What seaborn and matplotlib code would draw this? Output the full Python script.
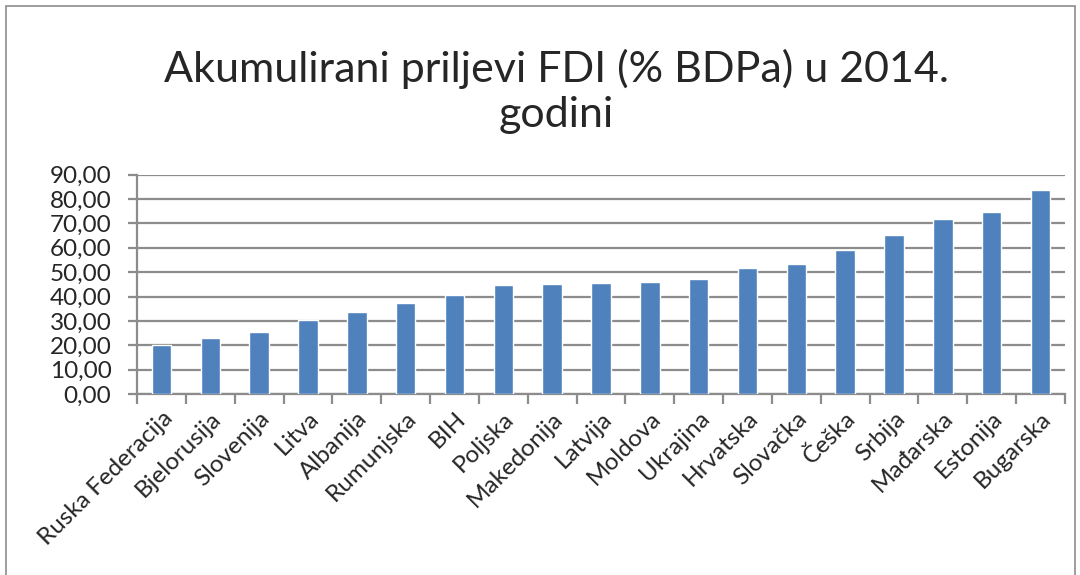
import numpy as np
import pandas as pd
import seaborn as sns
import matplotlib.pyplot as plt
from matplotlib.patches import Rectangle
from matplotlib.ticker import FuncFormatter, FixedLocator

# podaci (ocitano sa grafikona)
zemlje = ['Ruska Federacija', 'Bjelorusija', 'Slovenija', 'Litva', 'Albanija',
          'Rumunjska', 'BIH', 'Poljska', 'Makedonija', 'Latvija', 'Moldova',
          'Ukrajina', 'Hrvatska', 'Slovačka', 'Češka', 'Srbija', 'Mađarska',
          'Estonija', 'Bugarska']
fdi_udio = [20.1, 23.1, 25.6, 30.5, 33.7, 37.2, 40.8, 44.7, 45.3, 45.6, 46.0,
            47.2, 51.8, 53.4, 59.2, 65.1, 71.8, 74.6, 83.6]

df = pd.DataFrame({'zemlja': zemlje, 'fdi': fdi_udio})

sns.set_style('white')
plt.rcParams['font.family'] = ['Lato', 'DejaVu Sans']

fig = plt.figure(figsize=(10.8, 5.75), dpi=100)
ax = fig.add_axes([0.127, 0.315, 0.859, 0.381])

sns.barplot(data=df, x='zemlja', y='fdi', color='#4F81BD', width=0.4,
            saturation=1, ax=ax, zorder=3)

ax.set_ylim(0, 90)
ax.set_xlim(-0.5, len(zemlje) - 0.5)
ax.set_yticks(np.arange(0, 91, 10))
ax.yaxis.set_major_formatter(FuncFormatter(lambda v, p: f'{v:.2f}'.replace('.', ',')))
ax.grid(axis='y', color='#8C8C8C', linewidth=1.6, zorder=0)

for s in ['top', 'right']:
    ax.spines[s].set_visible(False)
for s in ['left', 'bottom']:
    ax.spines[s].set_color('#8C8C8C')
    ax.spines[s].set_linewidth(1.6)

ax.set_xlabel('')
ax.set_ylabel('')
ax.tick_params(axis='y', labelsize=17.5, length=6.5, width=1.6, color='#8C8C8C', pad=12, direction='out', left=True)
ax.tick_params(axis='x', which='major', length=0, labelsize=17.5, pad=10)
ax.xaxis.set_minor_locator(FixedLocator(np.arange(-0.5, len(zemlje), 1)))
ax.tick_params(axis='x', which='minor', length=7, width=1.6, color='#8C8C8C', direction='out', bottom=True)
plt.setp(ax.get_xticklabels(), rotation=45, ha='right', rotation_mode='anchor')

fig.text(0.515, 0.88, 'Akumulirani priljevi FDI (% BDPa) u 2014.', ha='center', va='center', fontsize=31)
fig.text(0.515, 0.80, 'godini', ha='center', va='center', fontsize=31)

fig.patches.append(Rectangle((0.006, -0.01), 0.989, 1.0, transform=fig.transFigure,
                             fill=False, edgecolor='#8C8C8C', linewidth=1.2))

plt.savefig('out.png', dpi=100)
